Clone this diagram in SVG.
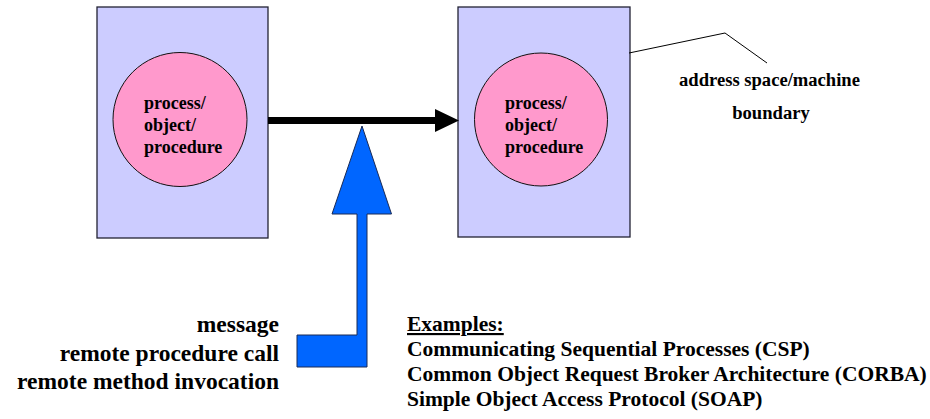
<svg xmlns="http://www.w3.org/2000/svg" width="930" height="419" viewBox="0 0 930 419">
<style>
.box{fill:#CCCCFF;stroke:#222233;stroke-width:1.3}
.proc{fill:#FF99CC;stroke:#111;stroke-width:1}
text{font-family:"Liberation Serif","Times New Roman",serif;font-weight:bold;font-size:18px;fill:#000}
.lbl{font-size:18.6px}
.msg{font-size:23.5px}
.ex{font-size:21.5px}
</style>
<rect width="930" height="419" fill="#fff"/>
<g id="machineA">
<rect class="box" x="97" y="7" width="171" height="231"/>
</g>
<g id="machineB">
<rect class="box" x="458" y="7" width="172" height="230"/>
</g>
<g id="procA">
<circle class="proc" cx="180" cy="119.5" r="67"/>
<text x="144" y="109">process/</text>
<text x="144" y="131">object/</text>
<text x="144" y="153">procedure</text>
</g>
<g id="procB">
<circle class="proc" cx="541" cy="119.5" r="66.5"/>
<text x="505" y="109">process/</text>
<text x="505" y="131">object/</text>
<text x="505" y="153">procedure</text>
</g>
<g id="boundaryLabel">
<polyline points="629,53 725,33 767,63" fill="none" stroke="#000" stroke-width="1"/>
<text class="lbl" x="679" y="86">address space/machine</text>
<text class="lbl" x="771" y="119" text-anchor="middle">boundary</text>
</g>
<g id="connectors">
<polygon points="268,117 435,117 435,109 459,120.5 435,132 435,124 268,124" fill="#000"/>
<polygon id="messageArrow" points="362,126 391.5,214 367,214 367,367 297,367 297,335 357,335 357,214 332,214" fill="#0066FF" stroke="#1a2a55" stroke-width="1"/>
</g>
<g id="messageLabel">
<text class="msg" x="279" y="332" text-anchor="end">message</text>
<text class="msg" x="279" y="360.5" text-anchor="end">remote procedure call</text>
<text class="msg" x="279" y="389" text-anchor="end">remote method invocation</text>
</g>
<g id="examples">
<text class="ex" x="407" y="331" text-decoration="underline">Examples:</text>
<text class="ex" x="407" y="356">Communicating Sequential Processes (CSP)</text>
<text class="ex" x="407" y="381">Common Object Request Broker Architecture (CORBA)</text>
<text class="ex" x="407" y="406">Simple Object Access Protocol (SOAP)</text>
</g>
</svg>
